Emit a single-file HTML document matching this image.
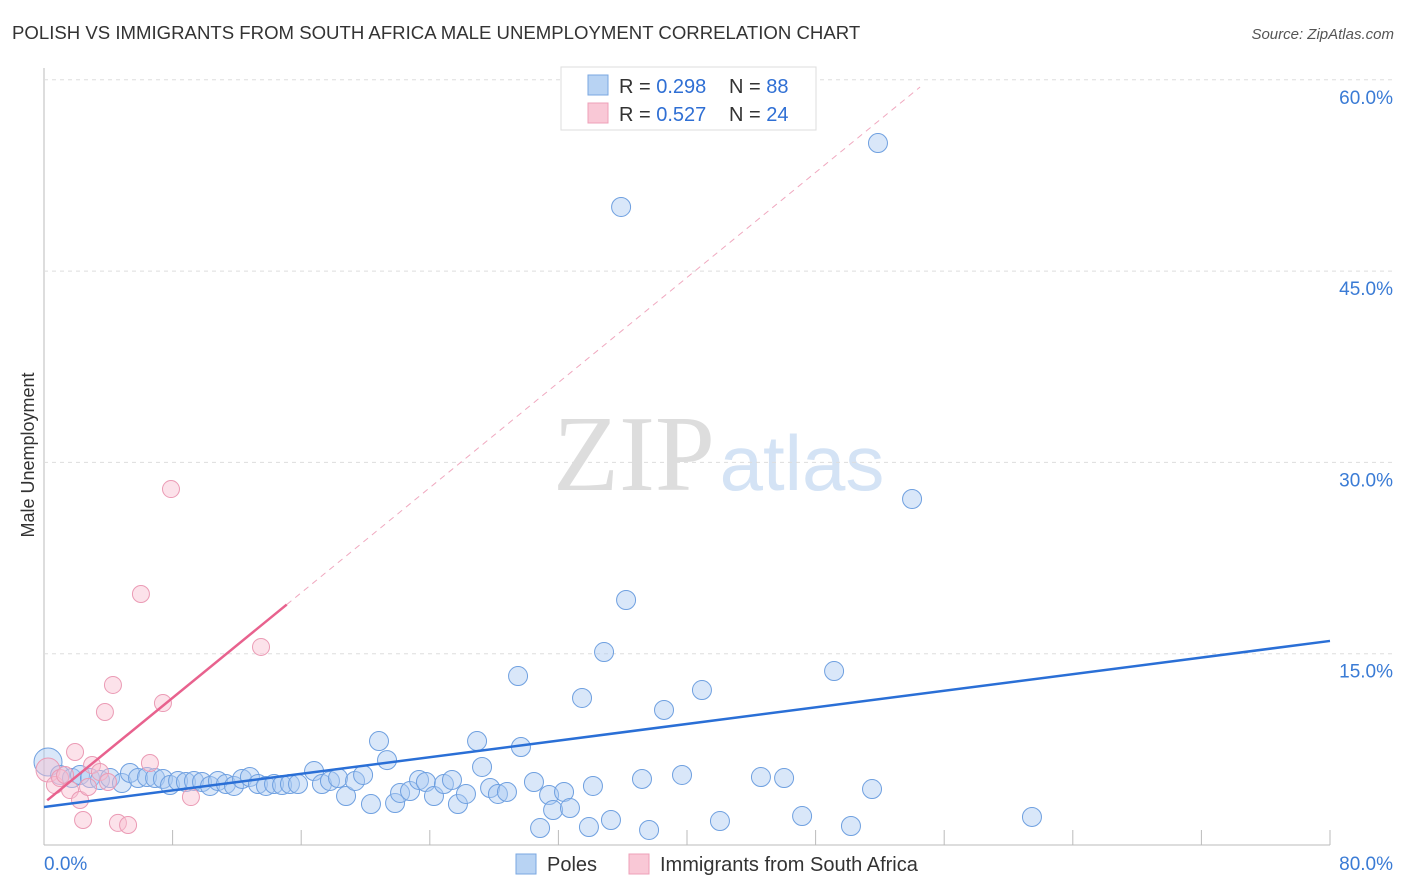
<!DOCTYPE html>
<html><head><meta charset="utf-8"><style>
body{margin:0;background:#fff;font-family:"Liberation Sans",sans-serif;}
svg{display:block}
</style></head><body>
<svg id="chart" width="1406" height="892">
<text x="12" y="39" font-size="18.6" fill="#333">POLISH VS IMMIGRANTS FROM SOUTH AFRICA MALE UNEMPLOYMENT CORRELATION CHART</text>
<text x="1394" y="39" font-size="15" fill="#555" font-style="italic" text-anchor="end">Source: ZipAtlas.com</text>
<text x="634" y="490" font-size="108" fill="#ddd" font-family="Liberation Serif,serif" text-anchor="middle">ZIP</text>
<text x="802" y="490" font-size="78" fill="#d4e3f5" text-anchor="middle">atlas</text>
<text transform="translate(34,455) rotate(-90)" font-size="18" fill="#333" text-anchor="middle">Male Unemployment</text>
<g id="grid"></g><g id="pts"></g><g id="lines"></g>
<g>
<rect x="561" y="67" width="255" height="63" fill="#fff" stroke="#ddd"/>
<rect x="588" y="75" width="20" height="20" fill="#b8d3f3" stroke="#7aa7e0"/>
<text x="619" y="93" font-size="20" fill="#333">R = <tspan fill="#2f6fd4">0.298</tspan></text>
<text x="729" y="93" font-size="20" fill="#333">N = <tspan fill="#2f6fd4">88</tspan></text>
<rect x="588" y="103" width="20" height="20" fill="#f9c8d6" stroke="#eea0b8"/>
<text x="619" y="121" font-size="20" fill="#333">R = <tspan fill="#2f6fd4">0.527</tspan></text>
<text x="729" y="121" font-size="20" fill="#333">N = <tspan fill="#2f6fd4">24</tspan></text>
</g>
<g>
<rect x="516" y="854" width="20" height="20" fill="#b8d3f3" stroke="#7aa7e0"/>
<text x="547" y="871" font-size="20" fill="#333">Poles</text>
<rect x="629" y="854" width="20" height="20" fill="#f9c8d6" stroke="#eea0b8"/>
<text x="660" y="871" font-size="20" fill="#333">Immigrants from South Africa</text>
</g>
</svg>
<script>
const yTicks=[15,30,45,60];
const yTickLabels=["15.0%","30.0%","45.0%","60.0%"];
const xTickLabels=["0.0%","80.0%"];
const polesX=[0.25,1.0,1.74,2.24,2.86,3.48,4.11,4.85,5.35,5.85,6.41,6.91,7.40,7.84,8.34,8.83,9.33,9.83,10.33,10.82,11.32,11.82,12.32,12.81,13.31,13.81,14.31,14.81,15.30,15.80,16.80,17.29,17.79,18.29,18.79,19.35,19.85,20.34,20.84,21.34,21.84,22.15,22.77,23.33,23.76,24.26,24.88,25.38,25.75,26.25,26.94,27.25,27.75,28.24,28.80,29.49,29.67,30.48,30.86,31.42,31.67,32.35,32.72,33.47,33.90,34.15,34.84,35.27,35.90,36.21,37.20,37.64,38.57,39.69,40.93,42.05,44.60,46.04,47.16,49.15,50.20,51.51,51.88,54.00,61.46];
const polesY=[6.51,5.49,5.25,5.49,5.25,5.10,5.25,4.86,5.65,5.25,5.33,5.25,5.18,4.70,5.02,4.94,5.02,4.94,4.63,5.02,4.78,4.63,5.18,5.33,4.78,4.63,4.78,4.70,4.78,4.78,5.80,4.78,5.02,5.25,3.84,5.02,5.49,3.21,8.15,6.66,3.29,4.08,4.23,5.10,4.94,3.84,4.78,5.10,3.21,4.00,8.15,6.12,4.47,4.00,4.16,13.25,7.68,4.94,1.33,3.92,2.74,4.16,2.90,11.53,1.41,4.63,15.13,1.96,50.03,19.21,5.18,1.18,10.59,5.49,12.15,1.88,5.33,5.25,2.27,13.64,1.49,4.39,55.04,27.13,2.20];
const immX=[0.25,0.68,1.0,1.31,1.62,1.93,2.24,2.43,2.74,2.99,3.48,3.79,3.98,4.29,4.60,5.23,6.03,6.59,7.40,7.90,9.14,13.50];
const immY=[5.88,4.70,5.25,5.49,4.31,7.29,3.53,1.96,4.55,6.27,5.72,10.43,4.94,12.55,1.73,1.57,19.68,6.43,11.13,27.91,3.76,15.53];
const polesLine=[2.98,16.0];
const immLine=[3.3,1.03];
const immSolidEnd=15.1, immDashEnd=54.5;
const X=v=>44+v/80*1286, Y=v=>845-v/15*191.3;
const NS="http://www.w3.org/2000/svg";
function mk(t,a,p){const e=document.createElementNS(NS,t);for(const k in a)e.setAttribute(k,a[k]);p.appendChild(e);return e;}
const g=document.getElementById('grid');
const ax=mk('line',{x1:44,y1:68,x2:44,y2:845,stroke:'#bbb'},g);


const bx=mk('line',{x1:44,y1:845,x2:1330,y2:845,stroke:'#bbb'},g);


for(let i=1;i<=10;i++){const t=mk('line',{x1:X(i*8),y1:830,x2:X(i*8),y2:845,stroke:'#bbb'},g);

}
yTicks.forEach((v,i)=>{const l=mk('line',{x1:44,y1:Y(v),x2:1394,y2:Y(v),stroke:'#ddd','stroke-dasharray':'4,4'},g);


const t=mk('text',{x:1393,y:Y(v)+24,'font-size':19,fill:'#3a7bd5','text-anchor':'end'},g);t.textContent=yTickLabels[i];

});
[[44,'start',0],[1393,'end',1]].forEach(([x,a,i])=>{const t=mk('text',{x:x,y:870,'font-size':19,fill:'#3a7bd5','text-anchor':a},g);t.textContent=xTickLabels[i];

});
const p=document.getElementById('pts');
polesX.forEach((x,i)=>{const c=mk('circle',{cx:X(x),cy:Y(polesY[i]),r:i==0?14:9.5,fill:'rgba(170,202,242,0.45)',stroke:'#6fa0e0','stroke-width':1},p);

});
immX.forEach((x,i)=>{const c=mk('circle',{cx:X(x),cy:Y(immY[i]),r:i==0?12:8.5,fill:'rgba(248,190,208,0.45)',stroke:'#eb9bb5','stroke-width':1},p);

});
const L=document.getElementById('lines');
const b=mk('line',{x1:X(0),y1:Y(polesLine[0]),x2:X(80),y2:Y(polesLine[1]),stroke:'#2a6fd6','stroke-width':2.5},L);


const f=x=>immLine[0]+immLine[1]*x;
const s=mk('line',{x1:X(0.2),y1:Y(f(0.2)),x2:X(immSolidEnd),y2:Y(f(immSolidEnd)),stroke:'#e8628e','stroke-width':2.5},L);


const d=mk('line',{x1:X(immSolidEnd),y1:Y(f(immSolidEnd)),x2:X(immDashEnd),y2:Y(f(immDashEnd)),stroke:'#f0a8bf','stroke-width':1,'stroke-dasharray':'6,5'},L);


</script>
</body></html>
